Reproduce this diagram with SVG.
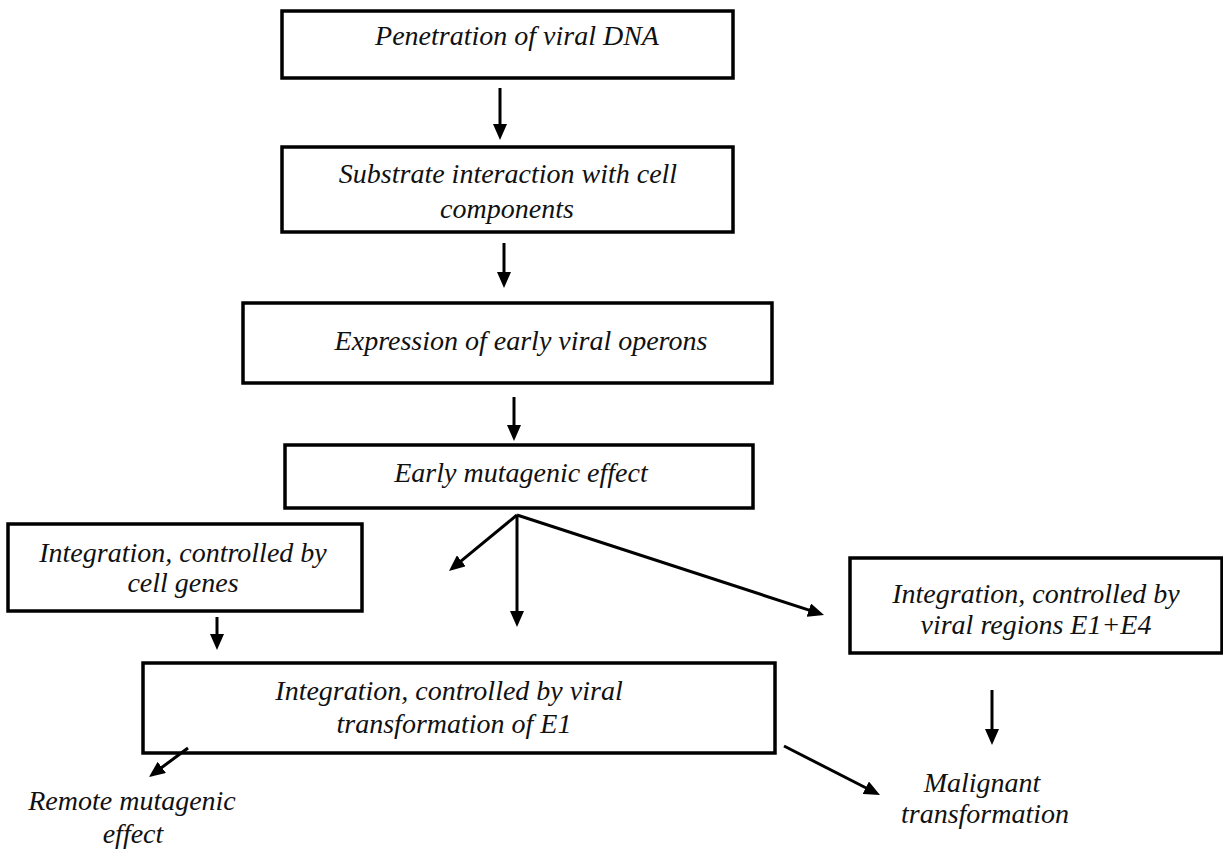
<svg xmlns="http://www.w3.org/2000/svg" width="1223" height="850" viewBox="0 0 1223 850">
  <style>
    .box { fill: #ffffff; stroke: #000000; stroke-width: 3.5; }
    .lbl { font-family: "Liberation Serif", "Times New Roman", serif; font-style: italic; font-size: 28px; fill: #111111; text-anchor: middle; }
    .arr { stroke: #000000; stroke-width: 3; fill: none; marker-end: url(#ah); }
  </style>
  <defs>
    <marker id="ah" markerUnits="userSpaceOnUse" markerWidth="16" markerHeight="14" viewBox="0 0 16 14" refX="6" refY="7" orient="auto">
      <path d="M0,0 L16,7 L0,14 z" fill="#000000"/>
    </marker>
  </defs>
  <rect width="1223" height="850" fill="#ffffff"/>

  <g id="n1">
    <rect class="box" x="282" y="11" width="451" height="67"/>
    <text class="lbl" x="517" y="45">Penetration of viral DNA</text>
  </g>
  <g id="n2">
    <rect class="box" x="282" y="147" width="451" height="85"/>
    <text class="lbl" x="508" y="183">Substrate interaction with cell</text>
    <text class="lbl" x="507" y="218">components</text>
  </g>
  <g id="n3">
    <rect class="box" x="243" y="303" width="529" height="80"/>
    <text class="lbl" x="521" y="350">Expression of early viral operons</text>
  </g>
  <g id="n4">
    <rect class="box" x="285" y="445" width="468" height="63"/>
    <text class="lbl" x="521" y="482">Early mutagenic effect</text>
  </g>
  <g id="n5">
    <rect class="box" x="8" y="524" width="354" height="87"/>
    <text class="lbl" x="183" y="562">Integration, controlled by</text>
    <text class="lbl" x="183" y="592">cell genes</text>
  </g>
  <g id="n6">
    <rect class="box" x="143" y="663" width="632" height="90"/>
    <text class="lbl" x="449" y="700">Integration, controlled by viral</text>
    <text class="lbl" x="454" y="733">transformation of E1</text>
  </g>
  <g id="n7">
    <rect class="box" x="850" y="558" width="372" height="95"/>
    <text class="lbl" x="1036" y="603">Integration, controlled by</text>
    <text class="lbl" x="1036" y="634">viral regions E1+E4</text>
  </g>
  <g id="n8">
    <text class="lbl" x="132" y="810">Remote mutagenic</text>
    <text class="lbl" x="133" y="843">effect</text>
  </g>
  <g id="n9">
    <text class="lbl" x="982" y="792">Malignant</text>
    <text class="lbl" x="985" y="823">transformation</text>
  </g>

  <g id="connectors">
    <line class="arr" x1="500" y1="88" x2="500" y2="130"/>
    <line class="arr" x1="504" y1="243" x2="504" y2="278"/>
    <line class="arr" x1="514" y1="397" x2="514" y2="431"/>
    <line class="arr" x1="517" y1="515" x2="456.7" y2="564.6"/>
    <line class="arr" x1="517" y1="515" x2="517" y2="617"/>
    <line class="arr" x1="517" y1="515" x2="814.5" y2="611.9"/>
    <line class="arr" x1="217" y1="617" x2="217" y2="640"/>
    <line class="arr" x1="992" y1="690" x2="992" y2="735"/>
    <line class="arr" x1="784" y1="746" x2="871.1" y2="790.5"/>
    <line class="arr" x1="188" y1="748" x2="157" y2="771"/>
  </g>
</svg>
